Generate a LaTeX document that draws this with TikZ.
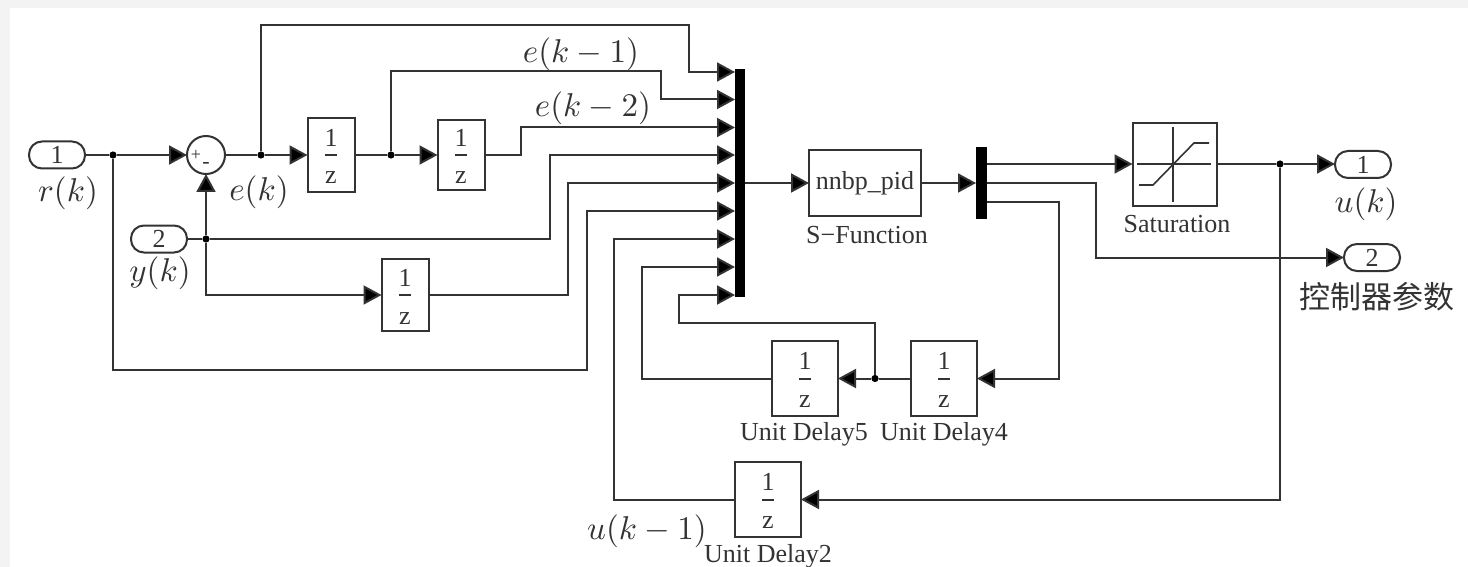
\documentclass[tikz,border=0pt]{standalone}
\usepackage{fontspec}
\setmainfont{Liberation Serif}
\newfontfamily\cjk{Noto Sans CJK SC}
\usetikzlibrary{arrows.meta}
\definecolor{ink}{HTML}{333333}
\definecolor{margin}{HTML}{F3F3F3}
\newcommand\lbl{\fontsize{13}{15}\selectfont}
\newcommand\mthb[1]{\scalebox{1.65}{$#1$}}
% fraction 1/z centred on its rule: zero-size box, so the node's centre is the rule
\newcommand\onez{\fontsize{13}{13}\selectfont
  \smash{\rlap{\rule[-0.5pt]{5.6pt}{1pt}}%
  \rlap{\makebox[5.6pt]{\raisebox{4.3pt}{1}}}%
  \makebox[5.6pt]{\raisebox{-14.5pt}{z}}}}
\tikzset{
  wire/.style={draw=ink,line width=1pt,line join=miter},
  arr/.style={wire,-{Triangle[length=9pt,width=9.5pt,fill=black]}},
  blk/.style={draw=ink,line width=1pt,fill=white,inner sep=0pt,outer sep=0pt,text=ink,align=center},
  port/.style={blk,rounded corners=6.5pt,minimum width=28pt,minimum height=13.5pt,font=\fontsize{13}{13}\selectfont},
  bar/.style={fill=black,draw=none,inner sep=0pt,outer sep=0pt},
  dlyb/.style={blk,minimum width=33pt,minimum height=37.5pt},
  jdot/.style={circle,fill=black,draw=none,inner sep=0pt,outer sep=0pt,minimum size=3.6pt},
  capt/.style={text=ink,inner sep=0pt,font=\lbl},
  mlab/.style={text=ink,inner sep=0pt},
}
\begin{document}
\begin{tikzpicture}[x=0.5pt,y=-0.5pt]
\useasboundingbox (0,0) rectangle (1468,567);
\fill[margin] (0,0) rectangle (1468,567);
\fill[white] (10,8) rectangle (1468,567);

% ports
\node[port] (in1) at (57,155) {1};
\node[port] (in2) at (159,239) {2};
\node[port] (out1) at (1363,164.5) {1};
\node[port] (out2) at (1372,257.5) {2};

% sum
\node[blk,circle,minimum size=19pt] (sum) at (206,155) {};
\node[text=ink,inner sep=0pt,font=\fontsize{9}{9}\selectfont] (plus) at (196,155) {+};
\node[text=ink,inner sep=0pt,font=\fontsize{11}{11}\selectfont] (minus) at (206,165) {-};

% delays
\node[blk,minimum width=23.5pt,minimum height=37pt] (z1) at (331,155) {\onez};
\node[blk,minimum width=23.5pt,minimum height=35pt] (z2) at (461,155) {\onez};
\node[blk,minimum width=23.5pt,minimum height=36pt] (z3) at (405,295) {\onez};
\node[dlyb] (z5) at (805,378.5) {\onez};
\node[dlyb] (z4) at (944,378.5) {\onez};
\node[dlyb] (z22) at (768,499.5) {\onez};

% bars
\node[bar,minimum width=5.25pt,minimum height=114pt] (mux) at (740,183) {};
\node[bar,minimum width=5.5pt,minimum height=36pt] (demux) at (981.5,183) {};
\foreach \i/\y in {1/72,2/99.5,3/127.5,4/155,5/183,6/211,7/239,8/267,9/295}
  \coordinate (m\i) at (735,\y);
\coordinate (dm1) at (987,164);
\coordinate (dm2) at (987,183);
\coordinate (dm3) at (987,202);

% function blocks
\node[blk,minimum width=56pt,minimum height=33pt,font=\lbl] (sf) at (865,183) {nnbp\_pid};
\node[blk,minimum width=42pt,minimum height=41.5pt] (sat) at (1174.5,164.5) {};
\draw[ink,line width=0.8pt] (1137,164) -- (1211,164);
\draw[ink,line width=0.8pt] (1173,127) -- (1173,202);
\draw[ink,line width=0.8pt] (1139,185) -- (1153,185) -- (1194,143) -- (1209,143);

% junctions
\node[jdot] (j1) at (113,155) {};
\node[jdot] (j2) at (261,155) {};
\node[jdot] (j3) at (391,155) {};
\node[jdot] (j4) at (206,239) {};
\node[jdot] (j5) at (875,378.5) {};
\node[jdot] (j6) at (1280,164) {};

% forward wires
\draw[arr] (in1.east) -- (j1) -- (sum.west);
\draw[arr] (sum.east) -- (j2) -- (z1.west);
\draw[arr] (z1.east) -- (j3) -- (z2.west);
\draw[arr] (in2.east) -- (j4) -- (sum.south);
\draw[arr] (j4) -- (206,295) -- (z3.west);

% mux inputs
\draw[arr] (j2) -- (261,25) -- (689,25) -- (689,72) -- (m1);
\draw[arr] (j3) -- (391,71) -- (661,71) -- (661,99.5) -- (m2);
\draw[arr] (z2.east) -- (521,155) -- (521,127.5) -- (m3);
\draw[arr] (j4) -- (550,239) -- (550,155) -- (m4);
\draw[arr] (z3.east) -- (568,295) -- (568,183) -- (m5);
\draw[arr] (j1) -- (113,369.5) -- (587,369.5) -- (587,211) -- (m6);
\draw[arr] (z22.west) -- (614,499.5) -- (614,239) -- (m7);
\draw[arr] (z5.west) -- (642,378.5) -- (642,267) -- (m8);
\draw[arr] (j5) -- (875,323) -- (679,323) -- (679,295) -- (m9);

% through the controller
\draw[arr] (mux.east) -- (sf.west);
\draw[arr] (sf.east) -- (demux.west);
\draw[arr] (dm1) -- (sat.west |- dm1);
\draw[arr] (sat.east |- dm1) -- (j6) -- (out1.west |- j6);
\draw[arr] (dm2) -- (1096,183) -- (1096,257.5) -- (out2.west);
\draw[arr] (dm3) -- (1059,202) -- (1059,378.5) -- (z4.east);
\draw[arr] (z4.west) -- (j5) -- (z5.east);
\draw[arr] (j6) -- (1280,499.5) -- (z22.east);

% labels
\node[mlab] (lr) at (68,193) {\mthb{r(k)}};
\node[mlab] (le) at (259,192) {\mthb{e(k)}};
\node[mlab] (ly) at (160,273) {\mthb{y(k)}};
\node[mlab] (le1) at (581,54) {\mthb{e(k-1)}};
\node[mlab] (le2) at (593,108) {\mthb{e(k-2)}};
\node[mlab] (lu) at (1366,204) {\mthb{u(k)}};
\node[mlab] (lu1) at (647,531) {\mthb{u(k-1)}};
\node[text=ink,inner sep=0pt,font=\cjk\fontsize{15.5}{16}\selectfont] (lc) at (1377,297) {控制器参数};
\node[capt] (c1) at (867,235) {S{\char"2212}Function};
\node[capt] (c2) at (1177,224) {Saturation};
\node[capt] (c3) at (804,434) {Unit Delay5};
\node[capt] (c4) at (944,434) {Unit Delay4};
\node[capt] (c5) at (768,556) {Unit Delay2};
\end{tikzpicture}
\end{document}
